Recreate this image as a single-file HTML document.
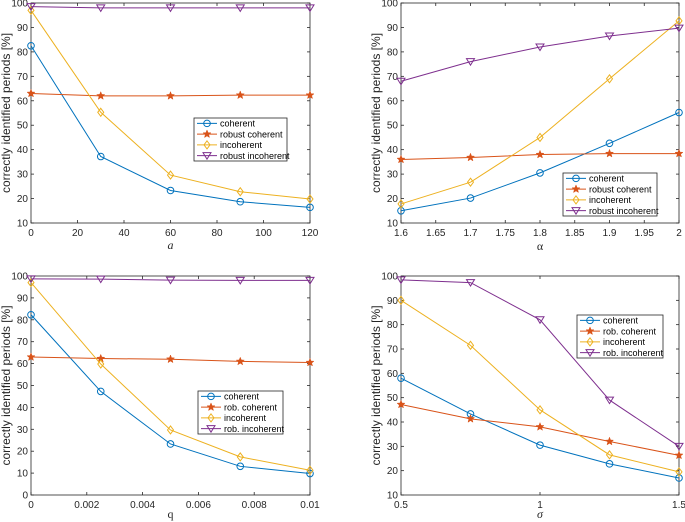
<!DOCTYPE html>
<html><head><meta charset="utf-8"><style>
body{margin:0;background:#fff;width:685px;height:522px;overflow:hidden}
svg{display:block;font-family:"Liberation Sans",sans-serif}
</style></head><body>
<svg id="fig" width="685" height="522" xmlns="http://www.w3.org/2000/svg"></svg>
<script>
const seriesNames1 = ["coherent","robust coherent","incoherent","robust incoherent"];
const seriesNames2 = ["coherent","rob. coherent","incoherent","rob. incoherent"];
const xA = [0,30,60,90,120];
const cohA = [82.5,37.2,23.3,18.7,16.4];
const rcohA = [63,62,62,62.3,62.3];
const incA = [97,55.3,29.6,22.8,19.8];
const rincA = [98.5,98,98,98,98];
const xAl = [1.6,1.7,1.8,1.9,2.0];
const cohAl = [15,20.2,30.5,42.6,55.2];
const rcohAl = [36,36.8,38,38.4,38.4];
const incAl = [17.8,26.7,45,69,92.7];
const rincAl = [68,76,82,86.5,89.7];
const xQ = [0,0.0025,0.005,0.0075,0.01];
const cohQ = [82.3,47.3,23.3,13.1,9.8];
const rcohQ = [63,62.3,62,61,60.5];
const incQ = [97,59.8,29.7,17.4,11.3];
const rincQ = [98.7,98.6,98.1,98,98];
const xS = [0.5,0.75,1,1.25,1.5];
const cohS = [58,43.3,30.5,22.8,17];
const rcohS = [47.2,41.3,38,32,26.3];
const incS = [90,71.5,45,26.5,19.5];
const rincS = [98.4,97.3,82,49,30];
const ticksXA = [0,20,40,60,80,100,120];
const ticksXAl = [1.6,1.65,1.7,1.75,1.8,1.85,1.9,1.95,2];
const ticksXQ = [0,0.002,0.004,0.006,0.008,0.01];
const ticksXS = [0.5,1,1.5];
const ticksY10 = [10,20,30,40,50,60,70,80,90,100];
const ticksY0 = [0,10,20,30,40,50,60,70,80,90,100];

const colors=["#0072BD","#D95319","#EDB120","#7E2F8E"];
const markers=["circle","star","diamond","tri"];
const NS="http://www.w3.org/2000/svg";
const svg=document.getElementById('fig');
function mk(tag,attrs,parent,text){const e=document.createElementNS(NS,tag);for(const k in attrs)e.setAttribute(k,attrs[k]);if(text!==undefined)e.textContent=text;(parent||svg).appendChild(e);return e;}
function marker(g,type,x,y,c){
  let e;
  if(type==="circle") e=mk('circle',{cx:x,cy:y,r:3.3,fill:'none',stroke:c,'stroke-width':1},g);
  else if(type==="diamond") e=mk('polygon',{points:`${x},${y-4} ${x+3},${y} ${x},${y+4} ${x-3},${y}`,fill:'none',stroke:c,'stroke-width':1},g);
  else if(type==="tri") e=mk('polygon',{points:`${x-4},${y-3} ${x+4},${y-3} ${x},${y+3.5}`,fill:'none',stroke:c,'stroke-width':1},g);
  else {let p=[];for(let i=0;i<10;i++){const r=i%2?1.8:4.2;const a=-Math.PI/2+i*Math.PI/5;p.push((x+r*Math.cos(a)).toFixed(2)+','+(y+r*Math.sin(a)).toFixed(2));}
    e=mk('polygon',{points:p.join(' '),fill:c,stroke:c,'stroke-width':0.5},g);}
  
  
}
function panel(o){
  const g=mk('g',{});
  
  
  const {x0,x1,y0,y1,xmin,xmax,ymin,ymax}=o;
  const sx=v=>x0+(v-xmin)/(xmax-xmin)*(x1-x0);
  const sy=v=>y1-(v-ymin)/(ymax-ymin)*(y1-y0);
  const box=mk('rect',{x:x0,y:y0,width:x1-x0,height:y1-y0,fill:'#fff',stroke:'#262626','stroke-width':0.8},g);
  
  
  o.xt.forEach(v=>{const X=sx(v);
    mk('line',{x1:X,x2:X,y1:y1,y2:y1-3,stroke:'#262626','stroke-width':0.8},g);
    mk('line',{x1:X,x2:X,y1:y0,y2:y0+3,stroke:'#262626','stroke-width':0.8},g);
    const t=mk('text',{x:X,y:y1+13,'font-size':10,'text-anchor':'middle',fill:'#262626'},g,String(v));
    
    });
  o.yt.forEach(v=>{const Y=sy(v);
    mk('line',{x1:x0,x2:x0+3,y1:Y,y2:Y,stroke:'#262626','stroke-width':0.8},g);
    mk('line',{x1:x1,x2:x1-3,y1:Y,y2:Y,stroke:'#262626','stroke-width':0.8},g);
    const t=mk('text',{x:x0-3,y:Y+3.5,'font-size':10,'text-anchor':'end',fill:'#262626'},g,String(v));
    
    });
  const xl=mk('text',{x:(x0+x1)/2,y:y1+o.xlOff,'font-size':12,'text-anchor':'middle','font-style':o.xitalic?'italic':'normal',fill:'#262626','font-family':'Liberation Serif,serif'},g,o.xlabel);
  
  
  const yc=(y0+y1)/2, yx=x0-21;
  const yl=mk('text',{x:yx,y:yc,'font-size':12,'text-anchor':'middle',fill:'#262626',transform:`rotate(-90 ${yx} ${yc})`},g,'correctly identified periods [%]');
  
  
  o.series.forEach((s,i)=>{
    const pts=o.xs.map((v,j)=>sx(v).toFixed(2)+','+sy(s[j]).toFixed(2)).join(' ');
    const pl=mk('polyline',{points:pts,fill:'none',stroke:colors[i],'stroke-width':1},g);
    
    
    o.xs.forEach((v,j)=>marker(g,markers[i],sx(v),sy(s[j]),colors[i]));
  });
  const L=o.leg;
  const lg=mk('g',{},g);
  
  
  mk('rect',{x:L[0],y:L[1],width:L[2]-L[0],height:L[3]-L[1],fill:'#fff',stroke:'#262626','stroke-width':0.8},lg);
  const h=(L[3]-L[1])/4;
  o.names.forEach((n,i)=>{const Y=L[1]+h*(i+0.5);
    const e=mk('g',{},lg);
    
    
    mk('line',{x1:L[0]+3,x2:L[0]+23,y1:Y,y2:Y,stroke:colors[i],'stroke-width':1},e);
    marker(e,markers[i],L[0]+13,Y,colors[i]);
    mk('text',{x:L[0]+26,y:Y+3.2,'font-size':9,fill:'#000'},e,n);});
}
panel({name:'panel-a',x0:31,x1:310,y0:3,y1:223,xmin:0,xmax:120,ymin:10,ymax:100,xt:ticksXA,yt:ticksY10,xs:xA,series:[cohA,rcohA,incA,rincA],names:seriesNames1,xlabel:'a',xitalic:true,xlOff:26,leg:[194,118,287,161]});
panel({name:'panel-alpha',x0:401,x1:679,y0:3,y1:223,xmin:1.6,xmax:2,ymin:10,ymax:100,xt:ticksXAl,yt:ticksY10,xs:xAl,series:[cohAl,rcohAl,incAl,rincAl],names:seriesNames1,xlabel:'α',xlOff:27,leg:[563,173,657,216]});
panel({name:'panel-q',x0:31,x1:310,y0:276,y1:495,xmin:0,xmax:0.01,ymin:0,ymax:100,xt:ticksXQ,yt:ticksY0,xs:xQ,series:[cohQ,rcohQ,incQ,rincQ],names:seriesNames2,xlabel:'q',xlOff:23,leg:[198,391,283,434]});
panel({name:'panel-sigma',x0:401,x1:679,y0:276,y1:495,xmin:0.5,xmax:1.5,ymin:10,ymax:100,xt:ticksXS,yt:ticksY10,xs:xS,series:[cohS,rcohS,incS,rincS],names:seriesNames2,xlabel:'σ',xitalic:true,xlOff:23,leg:[577,315,663,358]});
</script>
</body></html>
